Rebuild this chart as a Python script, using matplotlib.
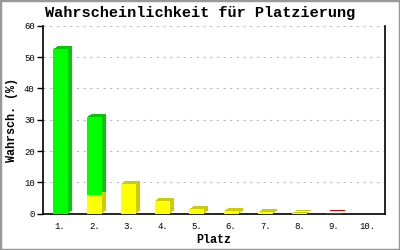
import matplotlib
matplotlib.use("Agg")
import matplotlib.pyplot as plt
from matplotlib.transforms import ScaledTranslation
from matplotlib.patches import Rectangle

places = ["1.", "2.", "3.", "4.", "5.", "6.", "7.", "8.", "9.", "10."]
green = [52.6, 24.9, 0, 0, 0, 0, 0, 0, 0, 0]
yellow = [0, 6.0, 9.6, 4.2, 1.5, 0.9, 0.4, 0.15, 0, 0]
red = [0, 0, 0, 0, 0, 0, 0, 0, 0.12, 0]
yticks = [0, 10, 20, 30, 40, 50, 60]

FONT = "Liberation Mono"
dpi = 100
fig = plt.figure(figsize=(4, 2.5), dpi=dpi)
fig.patch.set_facecolor("white")
ax = fig.add_axes([43/400, 1 - 213.7/250, (385-43)/400, (213.7-25.9)/250])

x = list(range(len(places)))
w = 0.44
bottom_g = [yy + r for yy, r in zip(yellow, red)]

# depth (extruded shadow layers)
for k in range(1, 5):
    shift = ax.transData + ScaledTranslation(k/dpi, 0.75*k/dpi, fig.dpi_scale_trans)
    ax.bar(x, red, w, color="#CC0000", transform=shift, zorder=2, linewidth=0)
    ax.bar(x, yellow, w, bottom=red, color="#CCCC00", transform=shift, zorder=2, linewidth=0)
    ax.bar(x, green, w, bottom=bottom_g, color="#00CC00", transform=shift, zorder=2, linewidth=0)
# fronts
ax.bar(x, red, w, color="#FF0000", zorder=3, linewidth=0)
ax.bar(x, yellow, w, bottom=red, color="#FFFF00", zorder=3, linewidth=0)
ax.bar(x, green, w, bottom=bottom_g, color="#00FF00", zorder=3, linewidth=0)

ax.set_xlim(-0.5, len(places) - 0.5)
ax.set_ylim(0, 60)
ax.set_yticks(yticks)
ax.set_yticklabels([str(v) for v in yticks], fontfamily=FONT, fontsize=6.5)
ax.set_xticks(x)
ax.set_xticklabels(places, fontfamily=FONT, fontsize=6.5)
ax.tick_params(axis="x", length=0, pad=6)
ax.tick_params(axis="y", length=4, width=1, direction="out", pad=2)

ax.yaxis.grid(True, linestyle=(0, (2, 4)), color="#BBBBBB", linewidth=0.8, zorder=0)
ax.set_axisbelow(True)
ax.spines["top"].set_visible(False)
for s in ("left", "bottom", "right"):
    ax.spines[s].set_linewidth(1.2)
    ax.spines[s].set_color("black")

fig.text(0.5, 1 - 13/250, "Wahrscheinlichkeit für Platzierung", fontfamily=FONT,
         fontsize=11, fontweight="bold", ha="center", va="center")
ax.set_xlabel("Platz", fontfamily=FONT, fontsize=8.5, fontweight="bold", labelpad=2)
ax.set_ylabel("Wahrsch. (%)", fontfamily=FONT, fontsize=8.5, fontweight="bold", labelpad=4)

fig.patches.append(Rectangle((0, 0), 1, 1, transform=fig.transFigure, fill=False,
                             edgecolor="#999999", linewidth=2.5))

fig.savefig("out.png", dpi=dpi)
